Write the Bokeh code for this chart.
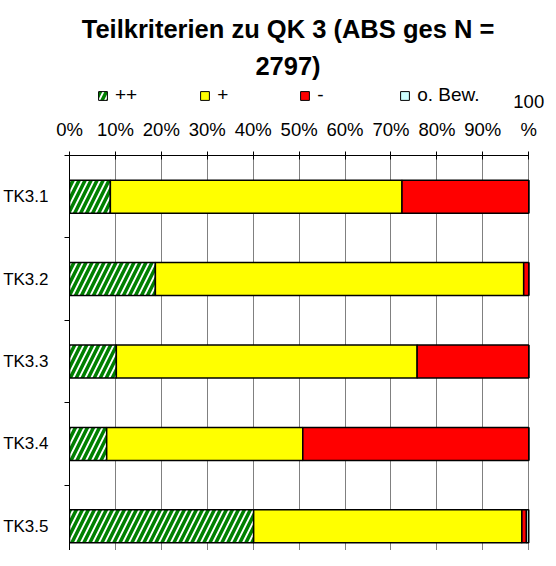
import numpy as np
from bokeh.plotting import figure
from bokeh.layouts import column
from bokeh.models import (ColumnDataSource, Range1d, FixedTicker, Legend,
                          LegendItem, Label)
from bokeh.embed import file_html
from bokeh.resources import INLINE

# ---- data ----
categories = ["TK3.1", "TK3.2", "TK3.3", "TK3.4", "TK3.5"]
series_names = ["++", "+", "-", "o. Bew."]
val_pp = [8.9, 18.7, 10.2, 8.1, 40.1]      # ++
val_p = [63.5, 80.2, 65.5, 42.7, 58.4]     # +
val_m = [27.6, 1.1, 24.3, 49.2, 1.0]       # -
val_ob = [0.0, 0.0, 0.0, 0.0, 0.5]         # o. Bew.
x_ticks = [0, 10, 20, 30, 40, 50, 60, 70, 80, 90, 100]
x_tick_labels = ["0%", "10%", "20%", "30%", "40%", "50%", "60%", "70%",
                 "80%", "90%", "100\n%"]
title_line1 = "Teilkriterien zu QK 3 (ABS ges N ="
title_line2 = "2797)"

FONT = "Liberation Sans"
fills = ["white", "#FFFF00", "#FF0000", "#CCFFFF"]
hatch = dict(hatch_pattern="/", hatch_color="#008000", hatch_weight=3.5, hatch_scale=12)

pos = np.arange(len(categories))
vals = np.array([val_pp, val_p, val_m, val_ob], dtype=float)
rights = np.cumsum(vals, axis=0)
lefts = rights - vals
sources = [ColumnDataSource(dict(y=pos, left=lefts[k], right=rights[k]))
           for k in range(len(series_names))]

# geometry (screen pixels)
W = 548
HEAD_H = 114
MAIN_H = 436
FRAME_L = 63
PLOT_W = 465                      # width of the 0..100 % span
x_end = 100.0 * (W - FRAME_L) / PLOT_W
shared_x = Range1d(0, x_end)

# ---------------- header: titles, legend, upper line of the "100 %" tick label
head = figure(width=W, height=HEAD_H, output_backend="svg", toolbar_location=None,
              x_range=shared_x, y_range=Range1d(10, 11),
              x_axis_location=None, y_axis_location=None,
              min_border_left=FRAME_L, min_border_right=0, min_border_top=0, min_border_bottom=0)
head.outline_line_color = None
head.grid.visible = False
head.background_fill_color = "white"
head.border_fill_color = "white"

for txt, y in [(title_line1, 85.5), (title_line2, 48.5)]:
    head.add_layout(Label(x=218.5, y=y, x_units="screen", y_units="screen", text=txt,
                          text_font=FONT, text_font_style="bold", text_font_size="25.5px",
                          text_color="black", text_align="center", text_baseline="middle"))

top_line = x_tick_labels[-1].split("\n")[0]
head.add_layout(Label(x=x_ticks[-1], y=13, y_units="screen", text=top_line,
                      text_font=FONT, text_font_size="18.5px", text_color="black",
                      text_align="center", text_baseline="middle"))

legend_r = []
for k, name in enumerate(series_names):
    kw = hatch if k == 0 else {}
    r = head.hbar(y="y", left="left", right="right", height=0.4, source=sources[k],
                  fill_color=fills[k], line_color="black", line_width=1, **kw)
    legend_r.append(r)
legend = Legend(items=[LegendItem(label=n, renderers=[r]) for n, r in zip(series_names, legend_r)],
                orientation="horizontal", location=(28, 8),
                label_text_font=FONT, label_text_font_size="19px", label_text_color="black",
                glyph_width=11, glyph_height=11, label_standoff=7, spacing=62,
                padding=0, margin=0, border_line_color=None, background_fill_alpha=0)
head.add_layout(legend, "center")

# ---------------- main chart
p = figure(width=W, height=MAIN_H, output_backend="svg", toolbar_location=None,
           x_range=shared_x, y_range=Range1d(-0.5 + (MAIN_H - 41) / 82.4, -0.5),
           x_axis_location="above", min_border_left=FRAME_L, min_border_right=0,
           min_border_bottom=0, min_border_top=41)
p.outline_line_color = None
p.background_fill_color = "white"
p.border_fill_color = "white"

xa = p.xaxis[0]
xa.bounds = (x_ticks[0], x_ticks[-1])
xa.ticker = FixedTicker(ticks=x_ticks, minor_ticks=[])
xa.major_label_overrides = {t: l.split("\n")[-1] for t, l in zip(x_ticks, x_tick_labels)}
xa.major_label_text_font = FONT
xa.major_label_text_font_size = "18.5px"
xa.major_label_text_color = "black"
xa.major_tick_in = 4
xa.major_tick_out = 4
xa.major_tick_line_color = "black"
xa.axis_line_color = "black"
xa.major_label_standoff = 12

ya = p.yaxis[0]
ya.ticker = FixedTicker(ticks=list(pos), minor_ticks=[i - 0.5 for i in range(len(categories) + 1)])
ya.major_label_overrides = {int(i): c for i, c in zip(pos, categories)}
ya.major_label_text_font = FONT
ya.major_label_text_font_size = "17px"
ya.major_label_text_color = "black"
ya.major_tick_in = 0
ya.major_tick_out = 0
ya.minor_tick_in = 0
ya.minor_tick_out = 5
ya.minor_tick_line_color = "black"
ya.axis_line_color = "black"
ya.major_label_standoff = 16

p.xgrid.grid_line_color = "#808080"
p.ygrid.grid_line_color = None

for k, name in enumerate(series_names):
    kw = hatch if k == 0 else {}
    p.hbar(y="y", left="left", right="right", height=0.4, source=sources[k],
           fill_color=fills[k], line_color="black", line_width=1.5, **kw)

lay = column(head, p, spacing=0)
open("out.html", "w").write(file_html(lay, INLINE))
